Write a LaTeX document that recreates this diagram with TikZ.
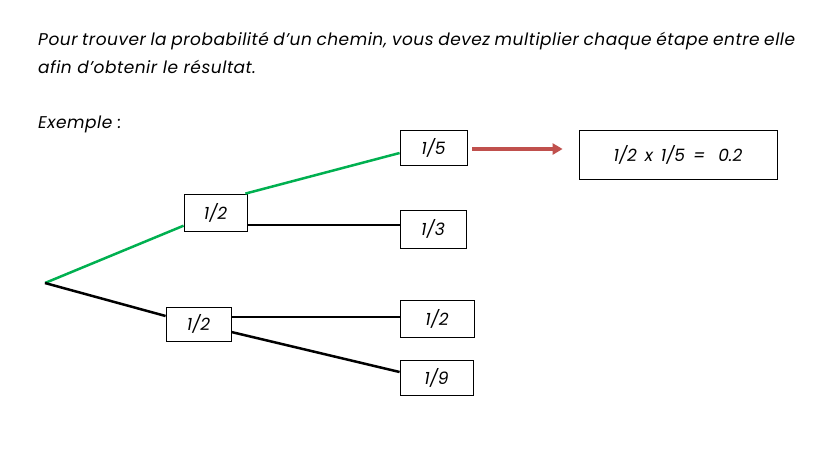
\documentclass[tikz,border=0pt]{standalone}
\usepackage{fontspec}
\setmainfont{Poppins}
\newfontfamily\spacedfont[LetterSpace=3]{Poppins}
\usetikzlibrary{arrows.meta,calc}
\definecolor{brgreen}{HTML}{00B050}
\definecolor{arrred}{HTML}{C0504D}
\tikzset{
  txt/.style={font=\spacedfont\fontsize{17}{20}\selectfont\itshape, inner sep=0pt},
  prob/.style={draw=black, line width=0.8pt, fill=white, font=\fontsize{17}{20}\selectfont\itshape, inner sep=0pt},
  branch/.style={line width=2.5pt, black},
  gbranch/.style={line width=2.5pt, brgreen},
}
\begin{document}
\begin{tikzpicture}[x=1pt,y=-1pt]
\useasboundingbox (0,0) rectangle (819,448);
\fill[white] (0,0) rectangle (819,448);
% text
\node[txt, anchor=base west] (l1) at (38,45) {\makebox[757pt][s]{Pour trouver la probabilité d’un chemin, vous devez multiplier chaque étape entre elle}};
\node[txt, anchor=base west] (l2) at (38,73) {afin d’obtenir le résultat.};
\node[txt, anchor=base west] (ex) at (38,128) {Exemple :};
% nodes
\coordinate (root) at (45,283);
\node[prob, minimum width=63pt, minimum height=37pt] (m1) at (215.5,212.5) {1/2};
\node[prob, minimum width=65pt, minimum height=34pt] (m2) at (198.5,324) {1/2};
\node[prob, minimum width=67pt, minimum height=35pt] (b15) at (433.5,147.5) {1/5};
\node[prob, minimum width=66pt, minimum height=38pt] (b13) at (433,229) {1/3};
\node[prob, minimum width=74pt, minimum height=37pt] (b12) at (437,318.5) {1/2};
\node[prob, minimum width=73pt, minimum height=35pt] (b19) at (436.5,377.5) {1/9};
\node[prob, minimum width=198pt, minimum height=49pt] (res) at (678,154.5) {1/2 \,x\, 1/5 \,=\, \ 0.2};
% connectors
\coordinate (m1a) at ($(m1.east)+(0,12.5)$);
\coordinate (m2a) at ($(m2.east)+(0,-7)$);
\coordinate (m2b) at ($(m2.east)+(0,8)$);
\coordinate (m2in) at ($(m2.west)+(0,-8)$);
\coordinate (m1out) at ($(m1.north east)+(-2,0)$);
\coordinate (b15in) at ($(b15.west)+(0,5.5)$);
\coordinate (b19in) at ($(b19.west)+(0,-5.5)$);
\draw[gbranch] (root) -- (m1);
\draw[gbranch] (m1out) -- (b15in);
\draw[branch] (m1a) -- (m1a -| b13.west);
\draw[branch] (root) -- (m2in);
\draw[branch] (m2a) -- (m2a -| b12.west);
\draw[branch] (m2b) -- (b19in);
\draw[arrred, line width=3.5pt, -{Triangle[length=10pt,width=11pt]}] ($(b15.east)+(5,1.5)$) -- ($(res.west)+(-16,-5.5)$);
\end{tikzpicture}
\end{document}
